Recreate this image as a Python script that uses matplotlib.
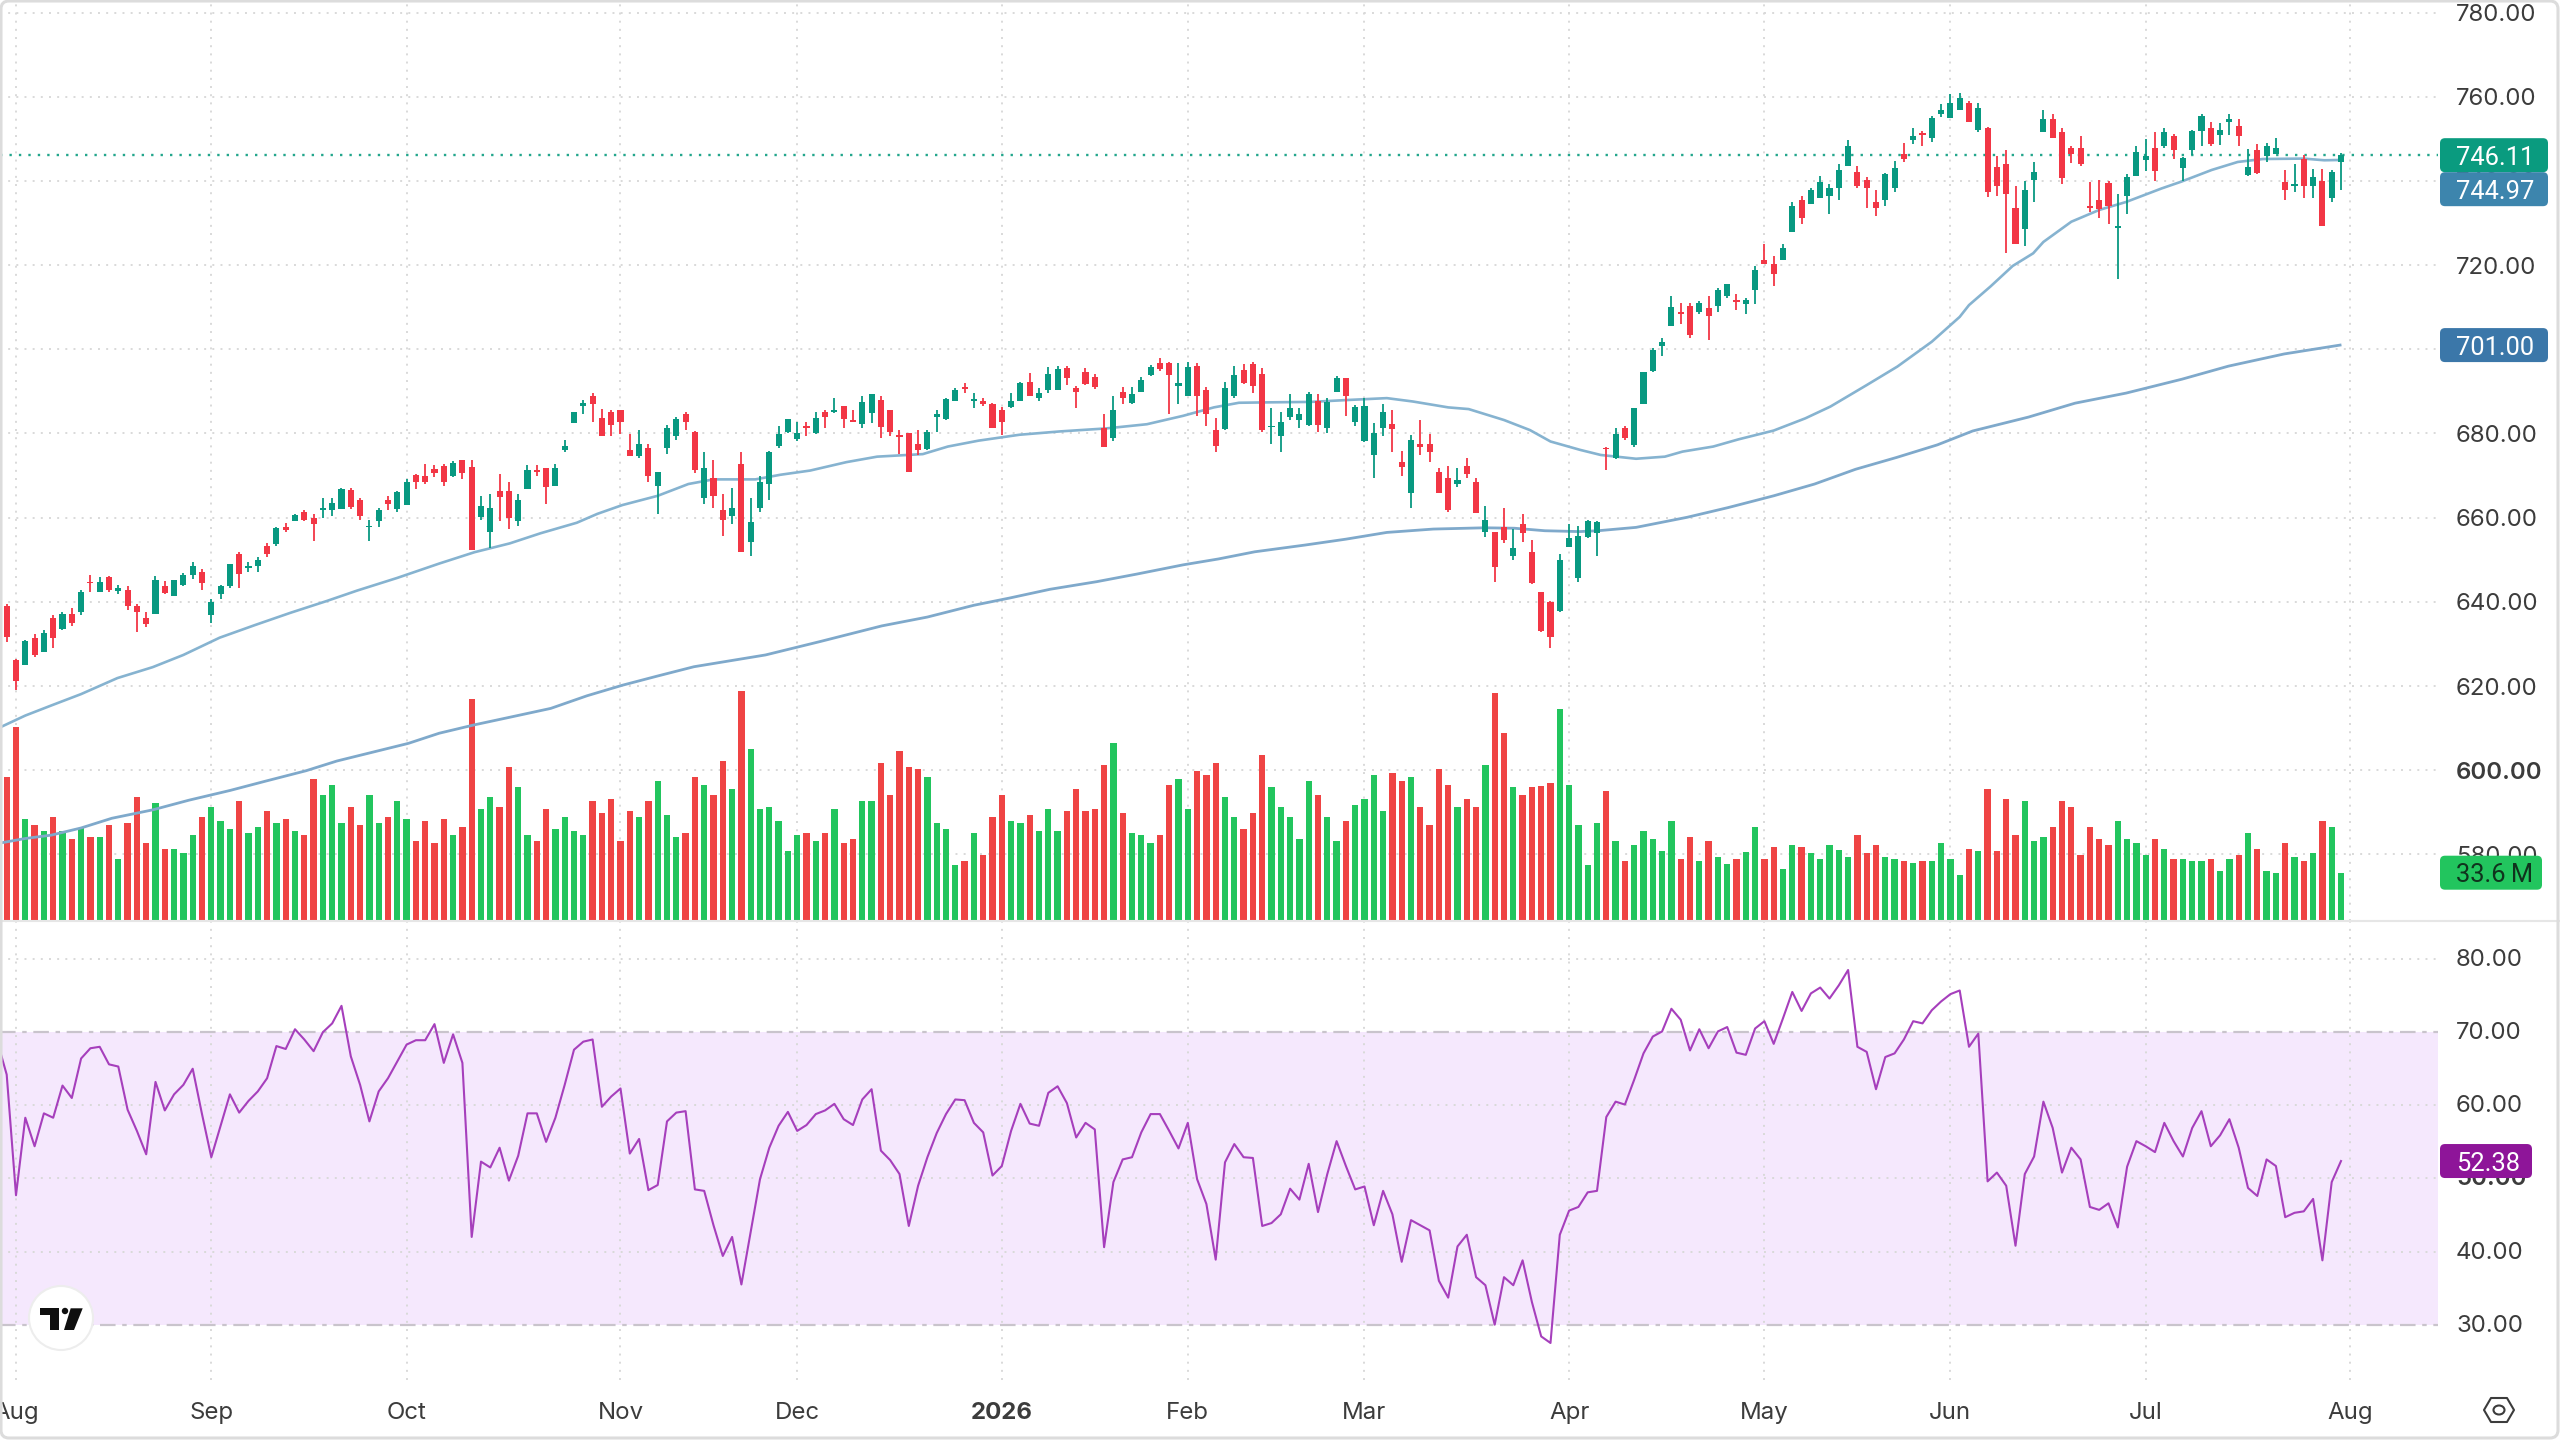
import numpy as np
import matplotlib
matplotlib.use("Agg")
import matplotlib.pyplot as plt
from matplotlib.patches import Circle, Ellipse, FancyBboxPatch, Polygon, Rectangle
from matplotlib.transforms import ScaledTranslation

plt.rcParams['font.family'] = ['Inter', 'DejaVu Sans']

# daily prices, one entry per session
opens = [639.1,626.2,624.9,631.5,628.1,636.2,633.5,637.2,637.6,644.8,
         642.4,645.8,642.7,642.9,639.1,636.2,637.2,643.7,641.4,644.0,
         646.5,647.2,636.8,641.9,643.7,651.4,648.0,648.5,653.3,653.7,
         657.7,659.1,661.3,659.9,661.9,661.9,662.0,666.6,664.1,657.7,
         659.2,664.1,662.0,662.9,670.2,670.0,671.5,672.2,669.8,673.6,
         672.1,660.1,656.7,666.4,666.4,659.1,666.7,671.4,671.8,667.5,
         676.0,682.4,686.6,688.9,683.6,685.1,685.5,676.0,674.6,676.6,
         667.5,676.6,679.4,684.6,680.3,664.7,669.4,661.8,660.5,672.8,
         654.3,662.4,668.1,677.0,680.4,678.7,681.8,680.1,685.0,685.1,
         686.5,683.2,682.2,684.8,688.0,685.6,679.6,680.1,677.5,676.3,
         683.9,683.4,687.6,691.0,687.6,687.6,687.0,685.6,686.2,687.6,
         692.3,688.4,690.3,690.3,695.5,690.7,694.5,693.5,681.2,678.9,
         689.8,687.3,689.9,693.8,696.8,696.7,691.4,689.0,696.0,690.3,
         680.8,681.0,688.9,695.1,696.5,694.1,681.5,679.5,683.8,683.2,
         681.9,687.8,681.4,689.9,693.1,682.8,678.1,674.8,681.4,682.2,
         673.2,665.8,677.5,677.5,670.8,669.4,668.0,672.3,668.4,656.7,
         656.5,657.9,650.9,658.4,651.8,642.3,639.9,637.9,653.1,645.6,
         655.4,656.3,676.6,674.1,681.2,677.3,687.0,694.9,700.8,705.6,
         708.9,710.3,708.8,709.7,710.3,712.6,711.8,710.7,714.1,721.2,
         720.2,721.2,727.9,735.4,734.5,735.9,736.5,738.4,743.5,742.2,
         740.2,734.9,735.4,738.4,746.3,749.7,751.3,750.1,755.9,755.0,
         756.8,758.4,752.1,752.6,743.4,743.9,733.5,728.5,740.2,751.7,
         754.8,751.7,747.9,747.7,734.1,735.4,739.4,728.9,736.4,741.2,
         744.9,747.7,748.3,750.6,743.1,747.3,751.8,752.5,750.9,753.9,
         753.0,741.4,747.3,745.9,746.4,739.8,738.8,745.3,738.8,740.0,
         736.0,744.6]
highs = [639.5,626.4,631.0,632.4,633.4,636.8,637.6,638.5,642.9,646.3,
         645.8,646.1,644.0,643.7,639.5,637.6,646.1,645.0,645.2,646.9,
         649.5,647.8,640.6,644.1,649.0,651.9,649.5,650.7,654.1,657.9,
         658.8,660.9,661.8,660.9,664.7,664.7,667.1,667.0,664.6,659.4,
         662.2,665.2,666.4,669.2,670.4,672.8,672.4,672.8,673.4,673.6,
         673.6,665.2,665.6,670.4,668.4,665.6,672.4,672.5,671.8,672.8,
         678.5,685.2,688.0,689.7,685.9,685.5,685.5,679.8,680.8,677.4,
         670.8,682.1,683.8,685.1,680.6,675.5,673.6,665.6,667.0,675.5,
         664.6,669.8,675.9,681.7,683.4,682.7,682.8,685.0,685.6,688.4,
         686.5,685.6,688.9,689.4,688.9,685.6,680.8,680.1,680.8,680.8,
         685.6,688.4,690.7,691.9,689.6,688.5,687.3,686.2,689.6,692.3,
         694.3,690.7,695.7,696.0,696.0,691.3,695.5,694.1,684.6,688.9,
         691.1,691.1,693.5,696.3,697.9,697.1,696.8,696.9,696.8,691.1,
         683.6,692.2,696.0,696.4,696.9,695.5,686.0,685.0,689.3,686.0,
         689.9,689.4,688.4,693.7,693.1,686.8,688.4,682.6,687.0,685.6,
         675.9,679.7,683.2,679.8,671.7,672.3,671.7,674.1,669.4,662.8,
         656.7,662.2,657.2,660.9,654.6,642.4,640.1,651.4,658.5,658.0,
         659.5,659.3,676.9,681.2,681.8,686.0,694.5,700.2,702.6,712.6,
         711.1,711.1,711.5,712.6,714.5,715.5,713.1,712.1,719.8,725.1,
         722.1,725.0,735.0,736.4,738.2,741.1,739.2,744.0,749.7,743.5,
         741.0,737.8,741.9,744.8,749.1,752.5,751.8,755.4,758.2,760.6,
         760.8,759.0,758.6,752.9,745.9,747.3,738.8,740.0,744.5,756.8,
         756.0,752.5,748.3,750.6,739.8,740.2,740.0,736.9,741.6,748.3,
         749.9,751.7,752.5,751.1,745.7,752.2,756.0,753.9,753.7,756.0,
         754.8,747.5,748.7,749.1,750.2,742.6,744.0,746.1,742.9,742.9,
         742.6,746.7]
lows = [630.4,619.0,624.9,626.8,628.1,629.1,633.4,634.2,636.8,642.3,
        642.3,642.4,641.9,638.0,632.9,634.0,637.2,641.9,641.4,643.7,
        645.4,642.9,634.9,640.6,643.4,643.4,647.1,647.1,650.6,653.3,
        656.5,659.1,659.1,654.4,659.9,660.5,662.0,662.0,659.5,654.4,
        657.9,661.8,661.3,662.9,666.7,668.1,669.6,667.5,669.6,669.1,
        652.4,659.5,652.9,659.2,657.3,658.1,666.7,670.0,663.3,667.5,
        675.6,682.4,684.6,682.7,679.4,679.4,679.8,674.6,674.2,668.5,
        660.9,675.2,678.5,680.8,670.5,663.3,662.4,655.7,658.6,651.9,
        651.0,661.3,664.1,676.6,680.2,678.3,679.4,679.9,681.2,684.8,
        681.4,682.8,681.4,682.4,679.0,679.5,675.1,670.9,674.9,676.1,
        680.4,683.2,687.6,689.6,686.0,686.5,681.2,679.7,686.1,687.6,
        688.9,687.6,689.6,690.3,691.5,686.0,691.5,690.5,676.7,678.1,
        687.0,687.0,689.9,693.7,694.9,684.6,687.0,689.0,684.2,681.8,
        675.7,680.8,688.4,691.8,689.6,680.4,677.5,675.7,683.2,681.4,
        681.8,680.4,680.1,689.9,684.2,681.8,677.9,669.5,679.5,675.7,
        670.0,662.4,674.8,673.3,665.8,661.4,667.2,669.5,661.0,655.3,
        644.8,653.9,650.0,654.3,644.3,632.9,629.1,637.7,653.0,644.8,
        655.1,650.9,671.3,673.9,678.5,676.7,687.0,694.5,698.4,705.5,
        706.0,702.7,708.4,702.2,708.9,712.2,709.3,708.4,710.7,720.2,
        715.0,721.2,727.9,729.7,734.5,735.9,732.1,735.4,743.5,738.4,
        733.6,731.7,734.1,737.4,744.5,748.7,748.3,749.3,755.2,755.0,
        756.8,754.0,751.7,736.1,736.4,722.8,725.0,724.6,735.0,751.7,
        750.2,739.2,744.2,743.6,732.7,731.1,729.7,716.6,732.1,741.1,
        742.4,740.0,747.9,745.3,740.0,746.1,748.3,748.3,748.5,750.9,
        748.3,741.1,741.6,744.5,746.4,735.4,737.4,736.0,736.0,729.3,
        735.0,737.8]
closes = [631.7,621.1,630.8,627.3,632.5,631.5,637.2,635.1,642.4,644.4,
          644.7,642.9,643.4,639.1,637.6,634.8,645.2,642.0,645.2,646.5,
          648.6,644.4,640.0,643.7,649.0,646.7,648.6,649.9,651.3,657.5,
          657.1,660.7,659.4,658.6,662.4,663.6,666.8,662.6,660.3,658.1,
          661.8,663.3,666.0,668.5,668.5,668.4,670.7,668.5,673.0,670.5,
          652.4,662.8,662.4,664.9,659.9,664.3,671.3,670.8,667.3,671.8,
          677.1,685.1,687.2,687.0,679.4,681.9,682.7,674.6,677.4,670.0,
          670.8,681.4,683.4,682.7,671.3,671.8,665.2,659.5,662.2,651.9,
          659.0,668.4,675.5,679.8,683.4,680.2,681.2,683.6,683.9,685.6,
          683.4,682.8,687.4,689.4,681.5,680.4,679.1,670.9,676.1,680.4,
          684.6,688.1,690.3,690.5,688.1,687.0,681.4,682.8,687.6,691.9,
          689.0,689.6,694.1,695.3,693.3,689.9,691.8,691.1,676.9,685.6,
          688.4,689.4,692.7,695.7,695.3,693.8,691.9,695.7,689.0,684.6,
          677.0,690.7,693.9,691.9,691.4,680.8,681.8,682.7,686.0,684.6,
          689.4,681.9,687.4,693.3,689.0,686.2,686.5,680.2,685.0,681.0,
          672.0,678.5,676.7,675.7,665.8,661.8,669.0,670.4,661.0,659.5,
          648.2,654.7,652.7,656.3,644.4,633.2,631.6,650.0,655.1,655.7,
          659.1,658.9,676.3,679.8,678.9,686.0,694.5,699.8,701.7,710.1,
          708.4,703.5,711.1,707.9,714.1,715.4,711.3,711.7,718.8,720.2,
          717.9,724.0,734.0,731.2,737.8,739.8,738.2,742.6,748.3,738.8,
          738.4,733.6,741.6,743.0,745.3,750.6,750.8,755.0,756.8,758.6,
          759.6,754.0,757.2,737.4,738.8,737.0,725.0,737.8,742.0,754.8,
          750.2,740.7,746.5,743.9,733.6,733.3,734.1,729.3,741.0,746.9,
          745.9,742.3,751.7,747.3,745.5,751.9,755.4,748.7,752.1,754.8,
          750.6,743.4,741.8,748.3,747.7,737.8,739.2,738.8,741.0,729.3,
          742.2,746.11]

# volume in millions of shares
volumes = [100.2,135.2,71.0,66.8,62.6,72.3,62.6,57.0,64.9,58.4,
           58.4,66.8,42.9,68.2,86.3,54.3,82.1,50.1,50.1,47.3,
           59.8,72.3,79.3,69.6,64.0,83.5,61.2,65.4,76.5,68.2,
           71.0,62.6,59.8,98.8,87.7,94.6,68.2,79.3,66.8,87.7,
           68.2,72.3,83.5,71.0,55.7,69.6,54.3,71.0,59.8,65.4,
           154.4,77.9,86.3,79.3,107.1,93.2,59.8,55.7,77.9,64.0,
           72.3,62.6,59.8,83.5,75.1,84.9,55.7,76.5,72.3,83.5,
           97.4,73.7,58.4,61.2,100.2,94.6,87.7,111.3,91.8,160.0,
           119.7,77.9,79.3,69.6,48.7,59.8,61.2,55.7,61.2,77.9,
           54.3,57.0,83.5,83.5,109.9,87.7,118.3,107.1,105.7,100.2,
           68.2,64.0,39.0,41.7,61.2,45.9,72.3,87.7,69.6,68.2,
           73.7,62.6,77.9,62.6,76.5,91.8,76.5,77.9,108.5,123.8,
           75.1,61.2,59.8,54.3,59.8,94.6,98.8,77.9,104.4,101.6,
           109.9,86.3,72.3,64.0,75.1,115.5,93.2,79.3,72.3,57.0,
           97.4,87.7,72.3,55.7,69.6,80.7,84.9,101.6,76.5,103.0,
           97.4,100.2,79.3,66.8,105.7,94.6,79.3,84.9,79.3,108.5,
           158.6,130.8,93.2,87.7,93.2,93.7,96.0,147.5,94.6,66.8,
           39.0,68.2,90.4,55.7,41.7,52.9,62.6,57.0,48.7,69.6,
           43.1,58.4,41.7,55.7,44.5,39.9,43.1,48.0,65.4,43.1,
           51.5,36.2,52.9,51.5,47.3,43.1,52.9,49.4,44.5,59.8,
           47.3,52.9,44.5,43.1,41.7,40.4,41.7,41.7,54.3,43.1,
           32.0,50.1,48.7,91.8,48.7,84.9,59.8,83.5,55.7,58.4,
           65.4,83.5,79.3,45.9,65.4,57.0,52.9,69.6,57.0,54.3,
           45.9,57.0,50.1,43.1,43.1,41.7,41.7,43.1,34.8,43.1,
           45.9,61.2,50.1,34.8,33.4,54.3,44.5,41.7,47.3,69.6,
           65.4,33.6]

# RSI starts one session before the first candle
rsi = [68.7,64.2,47.7,58.3,54.4,58.9,58.3,62.7,61.0,66.4,67.8,
       68.0,65.6,65.3,59.4,56.5,53.3,63.2,59.3,61.5,62.8,
       65.0,58.8,52.9,57.2,61.5,59.0,60.6,61.9,63.7,68.1,
       67.7,70.4,69.0,67.4,70.0,71.2,73.6,66.7,62.8,57.8,
       61.9,63.7,66.0,68.3,68.9,68.9,71.1,65.8,69.7,65.8,
       42.0,52.3,51.5,54.2,49.7,53.1,58.9,58.9,55.0,58.3,
       62.8,67.6,68.7,69.0,59.8,61.2,62.3,53.4,55.4,48.4,
       49.1,57.8,59.0,59.2,48.5,48.3,43.6,39.4,42.0,35.5,
       42.7,49.9,54.2,57.2,59.1,56.5,57.3,58.8,59.3,60.2,
       58.1,57.3,60.8,62.2,53.8,52.5,50.6,43.5,49.0,52.9,
       56.2,58.8,60.8,60.7,57.6,56.3,50.4,51.7,56.5,60.2,
       57.5,57.2,61.7,62.6,60.3,55.6,57.6,56.7,40.6,49.5,
       52.6,52.9,56.3,58.8,58.8,56.5,54.1,57.6,49.9,46.5,
       38.9,52.2,54.7,52.9,52.8,43.5,43.9,45.1,48.6,47.1,
       52.0,45.4,50.6,55.1,51.7,48.5,48.9,43.6,48.3,45.1,
       38.6,44.3,43.6,42.9,36.0,33.7,40.7,42.3,36.5,35.4,
       30.0,36.5,35.4,38.8,33.1,28.4,27.5,42.3,45.6,46.1,
       48.1,48.3,58.4,60.5,60.1,63.5,67.1,69.4,70.1,73.2,
       71.7,67.5,70.4,67.8,70.1,70.7,67.2,66.9,70.5,71.5,
       68.4,71.9,75.5,72.9,75.3,76.1,74.6,76.4,78.5,68.0,
       67.3,62.2,66.6,67.1,69.0,71.5,71.2,73.0,74.2,75.2,
       75.7,68.0,69.8,49.6,50.8,49.0,40.8,50.6,53.0,60.5,
       56.9,50.8,54.2,52.6,46.1,45.7,46.6,43.3,51.6,55.1,
       54.4,53.6,57.6,55.1,53.0,56.9,59.2,54.4,55.9,58.1,
       54.2,48.7,47.6,52.6,51.7,44.7,45.3,45.5,47.2,38.8,
       49.5,52.38]

# moving averages, read at session positions along each curve
ma50_x = [-1,2,4.8,8,11.9,15.7,19,22.9,26.7,30.5,34.4,37.7,42,46.5,50.3,54.1,57.4,61.3,
          63.5,66.2,70,73.3,76,80.5,83.2,86.4,90.3,93.6,98.5,101.2,104.5,108.9,113.3,
          118.2,122.6,126.5,129.8,132.5,135.8,140.2,144.6,148.4,151.2,155,157.2,161,
          163.8,166,169.2,171.4,175.2,178.3,180.2,183.5,186.2,190,193.4,196.1,200,203.3,
          207,210,211,213.3,215.7,217.9,219,222,225,227.9,231.7,233.8,237.1,239.9,242.6,
          247,249.2,251]
ma50 = [609.9,613.0,615.4,618.1,621.9,624.5,627.4,631.5,634.5,637.4,640.2,642.7,645.7,649.1,
        651.8,653.9,656.3,658.8,660.9,663.0,665.2,668.0,669.1,669.1,670.2,671.2,673.2,674.5,
        675.1,676.9,678.3,679.7,680.5,681.2,682.2,684.2,686.2,687.3,687.4,687.5,688.0,688.4,
        687.6,686.2,685.8,683.2,680.8,678.1,676.1,674.9,674.0,674.5,675.7,676.9,678.6,680.7,
        683.6,686.4,691.5,695.9,701.8,707.7,710.5,714.9,719.8,722.8,725.5,730.3,733.1,735.0,
        738.2,739.8,742.6,744.5,745.2,745.3,744.9,744.97]
ma200_x = [-1,2,4.8,8,11.3,15.7,19.6,24,27.8,32.2,35.5,39.9,43.2,46.5,50.3,54.1,58.5,62.4,66.2,
           70,73.9,78.3,81.6,87.5,94.1,99,104,107.8,112.2,117.2,121.5,126.5,130.3,134.2,139.6,
           144,148.4,153.4,158.9,162.1,165.4,169.1,171.1,175.2,180.7,185.1,190,194.4,198.8,
           203.2,207.6,211.4,217.4,222.4,227.9,233.9,238.9,244.9,250.9]
ma200 = [582.6,583.8,584.6,586.3,588.6,590.6,592.9,595.2,597.4,599.9,602.2,604.6,606.4,608.8,
         610.8,612.6,614.7,617.7,620.2,622.4,624.6,626.2,627.4,630.6,634.3,636.4,639.2,640.9,
         643.0,644.8,646.6,648.8,650.2,651.9,653.5,654.9,656.5,657.3,657.6,657.5,656.9,656.7,
         656.9,657.7,660.1,662.4,665.2,668.0,671.5,674.3,677.3,680.6,683.9,687.2,689.6,692.9,
         696.0,698.9,701.0]

month_pos = [1, 22, 43, 66, 85, 107, 127, 146, 168, 189, 209, 230, 252]
month_names = ["Aug", "Sep", "Oct", "Nov", "Dec", "2026", "Feb", "Mar", "Apr", "May", "Jun", "Jul", "Aug"]
price_ticks = list(range(580, 800, 20))
rsi_ticks = [30, 40, 50, 60, 70, 80]

last_price = 746.11
ma50_last = 744.97
ma200_last = 701.00
last_volume = 33.6
rsi_last = 52.38

UP = "#089981"
DOWN = "#F23645"
VOL_UP = "#22C55E"
VOL_DOWN = "#EF4444"
GRID = "#D9D9D9"
TEXT = "#3C3C3C"
MA50_COL = "#86B3D0"
MA200_COL = "#7FA9CB"

W, H = 2560, 1440
PLOT_R = 2438
PANE_Y = 921
RSI_B = 1380

opens, highs, lows, closes, volumes = map(np.array, (opens, highs, lows, closes, volumes))
rsi = np.array(rsi)
xs = np.arange(len(closes))
rsi_x = np.arange(len(rsi)) - 1
is_up = closes >= opens

x_left, x_right = -0.72, 261.43

fig = plt.figure(figsize=(W / 100, H / 100), dpi=100, facecolor="white")

top_rect = [0, 1 - PANE_Y / H, PLOT_R / W, PANE_Y / H]
ax_grid = fig.add_axes(top_rect, zorder=1)
ax_vol = fig.add_axes(top_rect, zorder=2)
ax = fig.add_axes(top_rect, zorder=3)
ax_rsi = fig.add_axes([0, 1 - RSI_B / H, PLOT_R / W, (RSI_B - PANE_Y) / H], zorder=1)
ov = fig.add_axes([0, 0, 1, 1], zorder=10)

dots = (0, (1, 3.2))

# grid and price scale sit behind everything else in the top pane
for a in (ax_grid, ax, ax_vol, ax_rsi):
    a.set_xlim(x_left, x_right)
    for s in a.spines.values():
        s.set_visible(False)

for a in (ax_grid, ax):
    a.set_ylim(564.2, 782.97)
ax_vol.set_ylim(0, 640.7)
ax_rsi.set_ylim(22.44, 85.2)

ax_grid.set_xticks(month_pos)
ax_grid.set_yticks(price_ticks)
ax_grid.set_yticklabels(["%.2f" % t for t in price_ticks])
ax_grid.yaxis.tick_right()
ax_grid.tick_params(axis="x", length=0, labelbottom=False)
ax_grid.tick_params(axis="y", length=0, pad=13, labelsize=17.3, labelcolor=TEXT)
ax_grid.grid(True, color=GRID, lw=1.4, ls=dots)
ax_grid.set_axisbelow(True)
for lab in ax_grid.get_yticklabels():
    if lab.get_text() == "600.00":
        lab.set_fontweight("semibold")

for a in (ax_vol, ax):
    a.patch.set_visible(False)
    a.set_xticks([])
    a.set_yticks([])

# volume
ax_vol.bar(xs, volumes, width=0.68, color=np.where(is_up, VOL_UP, VOL_DOWN), edgecolor="none")

# last close line
ax.axhline(last_price, color="#23A68C", lw=1.7, ls=(0, (1, 3)), zorder=1)

# moving averages
ax.plot(ma50_x, ma50, color=MA50_COL, lw=1.9, zorder=2, solid_joinstyle="round")
ax.plot(ma200_x, ma200, color=MA200_COL, lw=2.0, zorder=2, solid_joinstyle="round")

# candles
colors = np.where(is_up, UP, DOWN)
ax.vlines(xs, lows, highs, colors=colors, lw=1.3, zorder=3)
body_lo = np.minimum(opens, closes)
body_h = np.maximum(np.abs(closes - opens), 0.35)
ax.bar(xs, body_h, bottom=body_lo, width=0.66, color=colors, edgecolor="none", zorder=4)

# RSI pane
ax_rsi.axhspan(30, 70, color="#F5E8FD", lw=0, zorder=0)
ax_rsi.set_xticks(month_pos)
ax_rsi.set_xticklabels(month_names)
ax_rsi.set_yticks(rsi_ticks)
ax_rsi.set_yticklabels(["%.2f" % t for t in rsi_ticks])
ax_rsi.yaxis.tick_right()
ax_rsi.tick_params(axis="x", length=0, pad=15.7, labelsize=17.3, labelcolor=TEXT)
ax_rsi.tick_params(axis="y", length=0, pad=13, labelsize=17.3, labelcolor=TEXT)
ax_rsi.patch.set_visible(False)
for t in rsi_ticks:
    if t not in (30, 70):
        ax_rsi.axhline(t, color=GRID, lw=1.4, ls=dots, zorder=1)
for m in month_pos:
    ax_rsi.axvline(m, color=GRID, lw=1.4, ls=dots, zorder=1)
for lim in (30, 70):
    ax_rsi.axhline(lim, color="#C9C4CC", lw=1.6, ls=(0, (7, 3, 2, 3)), zorder=1)
ax_rsi.plot(rsi_x, rsi, color="#A63FBC", lw=1.5, zorder=3, solid_joinstyle="round")
for lab in ax_rsi.get_xticklabels():
    if lab.get_text() == "2026":
        lab.set_fontweight("bold")
# RSI scale labels sit slightly above their grid lines
nudge = ScaledTranslation(0, 1.5 / 100, fig.dpi_scale_trans)
for lab in ax_rsi.get_yticklabels():
    lab.set_transform(lab.get_transform() + nudge)
    if lab.get_text() == "50.00":
        lab.set_fontweight("semibold")

# pixel-space overlay for the scale tags, logo and frame
ov.set_xlim(0, W)
ov.set_ylim(H, 0)
ov.axis("off")
ov.patch.set_visible(False)


def pane_y(a, value):
    return H - a.transData.transform((0, value))[1]


def tag(y_center, width, text, color, text_color="white", height=34):
    box = FancyBboxPatch((2441, y_center - height / 2 + 1), width - 2, height - 2,
                         boxstyle="round,pad=1,rounding_size=5", fc=color, ec="none", zorder=5)
    ov.add_patch(box)
    # Roboto has fixed-width digits, so every tag lines up
    ov.text(2456, y_center, text, color=text_color, fontsize=18.4, family=["Roboto", "DejaVu Sans"],
            va="center_baseline", ha="left", zorder=6)


y_last = pane_y(ax, last_price)
tag(y_last, 108, "%.2f" % last_price, "#0A9B7F")
tag(y_last + 34, 108, "%.2f" % ma50_last, "#3D85AD")
tag(pane_y(ax, ma200_last), 108, "%.2f" % ma200_last, "#3B77A9")
tag(pane_y(ax_vol, last_volume), 102, "%.1f\u2009M" % last_volume, VOL_UP, text_color="#10331D")
tag(pane_y(ax_rsi, rsi_last), 92, "%.2f" % rsi_last, "#8E1599")

# pane divider and outer frame
ov.plot([0, W], [PANE_Y, PANE_Y], color="#E6E6E6", lw=1.5, zorder=2)
ov.add_patch(FancyBboxPatch((1, 1), W - 3, H - 3, boxstyle="round,pad=0,rounding_size=8",
                            fc="none", ec="#DCDCDC", lw=2.2, zorder=7))

# logo badge
ov.add_patch(Circle((61, 1318), 32, fc="white", ec="#EDEDED", lw=1.5, zorder=3))
ov.add_patch(Rectangle((40, 1308.3), 19, 7, fc="#0F0F0F", ec="none", zorder=4))
ov.add_patch(Rectangle((49.5, 1308.3), 9, 21.7, fc="#0F0F0F", ec="none", zorder=4))
ov.add_patch(Circle((65, 1311), 3.2, fc="#0F0F0F", ec="none", zorder=4))
ov.add_patch(Polygon([(70.7, 1308.3), (82.7, 1308.3), (74, 1330), (64, 1330)], fc="#0F0F0F", ec="none", zorder=4))

# settings icon
ov.add_patch(Polygon([(2484, 1410), (2491, 1398), (2507, 1398), (2514, 1410), (2507, 1422), (2491, 1422)],
                     fc="none", ec="#3C3C3C", lw=1.5, joinstyle="round", zorder=4))
ov.add_patch(Ellipse((2499, 1410), 11, 9, fc="none", ec="#3C3C3C", lw=1.5, zorder=4))

fig.savefig("out.png", dpi=100, facecolor="white")
